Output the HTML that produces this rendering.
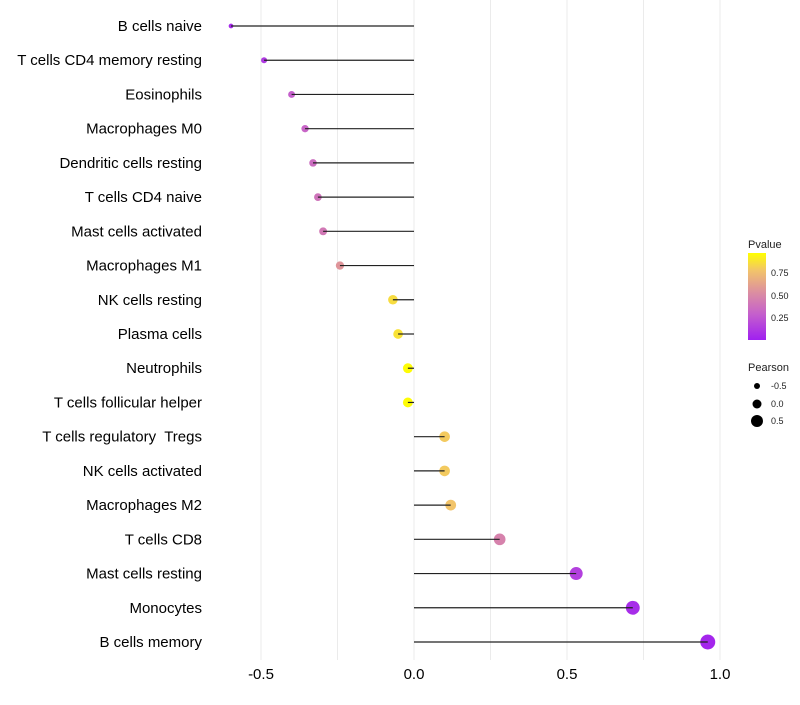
<!DOCTYPE html>
<html><head><meta charset="utf-8">
<style>
body{margin:0;background:#fff;font-family:"Liberation Sans",sans-serif;}
svg text{font-family:"Liberation Sans",sans-serif;white-space:pre;}
</style></head>
<body>
<svg id="chart" width="800" height="700">
<defs>
<linearGradient id="pgrad" x1="0" y1="1" x2="0" y2="0">
<stop offset="0" stop-color="#A020F0"/>
<stop offset="0.3" stop-color="#C560CC"/>
<stop offset="0.55" stop-color="#DC8FA0"/>
<stop offset="0.8" stop-color="#F2C46A"/>
<stop offset="1" stop-color="#FFFF00"/>
</linearGradient>
</defs>
<g id="grid"></g>
<g id="marks"></g>
<g id="ylabels"></g>
<g id="xlabels"></g>
<g>
<text x="748" y="248" font-size="11" fill="#222">Pvalue</text>
<rect x="748" y="253" width="18" height="87" fill="url(#pgrad)"/>
<text x="771" y="276" font-size="9" fill="#222">0.75</text>
<text x="771" y="299" font-size="9" fill="#222">0.50</text>
<text x="771" y="321" font-size="9" fill="#222">0.25</text>
</g>
<g>
<text x="748" y="371" font-size="11" fill="#222">Pearson</text>
<circle cx="757" cy="386" r="3" fill="#000"/>
<text x="771" y="389" font-size="9" fill="#222">-0.5</text>
<circle cx="757" cy="404" r="4.5" fill="#000"/>
<text x="771" y="407" font-size="9" fill="#222">0.0</text>
<circle cx="757" cy="421" r="6" fill="#000"/>
<text x="771" y="424" font-size="9" fill="#222">0.5</text>
</g>
</svg>
<script>
const categories=["B cells naive","T cells CD4 memory resting","Eosinophils","Macrophages M0","Dendritic cells resting","T cells CD4 naive","Mast cells activated","Macrophages M1","NK cells resting","Plasma cells","Neutrophils","T cells follicular helper","T cells regulatory  Tregs","NK cells activated","Macrophages M2","T cells CD8","Mast cells resting","Monocytes","B cells memory"];
const pearson=[-0.598,-0.49,-0.40,-0.356,-0.33,-0.314,-0.297,-0.242,-0.069,-0.052,-0.02,-0.02,0.10,0.10,0.12,0.28,0.53,0.715,0.96];
const pvalue=[0.05,0.12,0.3,0.33,0.37,0.4,0.43,0.58,0.88,0.9,0.99,0.99,0.82,0.82,0.8,0.48,0.15,0.06,0.03];
const xTicks=[-0.5,0.0,0.5,1.0];
const xTickLabels=["-0.5","0.0","0.5","1.0"];
const xMinor=[-0.25,0.25,0.75];

const NS="http://www.w3.org/2000/svg";
function xs(v){return 414+v*306;}
function ys(i){return 26+i*(616/18);}
function lerp(a,b,t){return Math.round(a+(b-a)*t);}
const stops=[[0,[160,32,240]],[0.3,[197,96,204]],[0.55,[220,143,160]],[0.8,[242,196,106]],[1,[255,255,0]]];
function col(p){for(let k=0;k<stops.length-1;k++){const [a,ca]=stops[k],[b,cb]=stops[k+1];if(p<=b){const t=(p-a)/(b-a);return `rgb(${lerp(ca[0],cb[0],t)},${lerp(ca[1],cb[1],t)},${lerp(ca[2],cb[2],t)})`;}}return "rgb(255,255,0)";}
function rs(v){return Math.sqrt(Math.max(2,25+32.4*v));}
function mk(tag,attrs,parent){const e=document.createElementNS(NS,tag);for(const k in attrs)e.setAttribute(k,attrs[k]);parent.appendChild(e);return e;}

const grid=document.getElementById('grid');
xTicks.concat(xMinor).forEach(v=>{
  const l=mk('line',{x1:xs(v),x2:xs(v),y1:0,y2:660,stroke:'#ebebeb','stroke-width':1},grid);
  
  
});
const marks=document.getElementById('marks');
const yl=document.getElementById('ylabels');
categories.forEach((c,i)=>{
  const y=ys(i);
  const dot=mk('circle',{cx:xs(pearson[i]),cy:y,r:rs(pearson[i]),fill:col(pvalue[i])},marks);
  
  
  const ln=mk('line',{x1:xs(0),x2:xs(pearson[i]),y1:y,y2:y,stroke:'#222','stroke-width':1.2},marks);
  
  
  const t=mk('text',{x:202,y:y+5,'text-anchor':'end','font-size':15,fill:'#000'},yl);
  t.textContent=c;
  
  
});
const xl=document.getElementById('xlabels');
xTicks.forEach((v,i)=>{
  const t=mk('text',{x:xs(v),y:679,'text-anchor':'middle','font-size':15,fill:'#000'},xl);
  t.textContent=xTickLabels[i];
  
  
});
</script>
</body></html>
